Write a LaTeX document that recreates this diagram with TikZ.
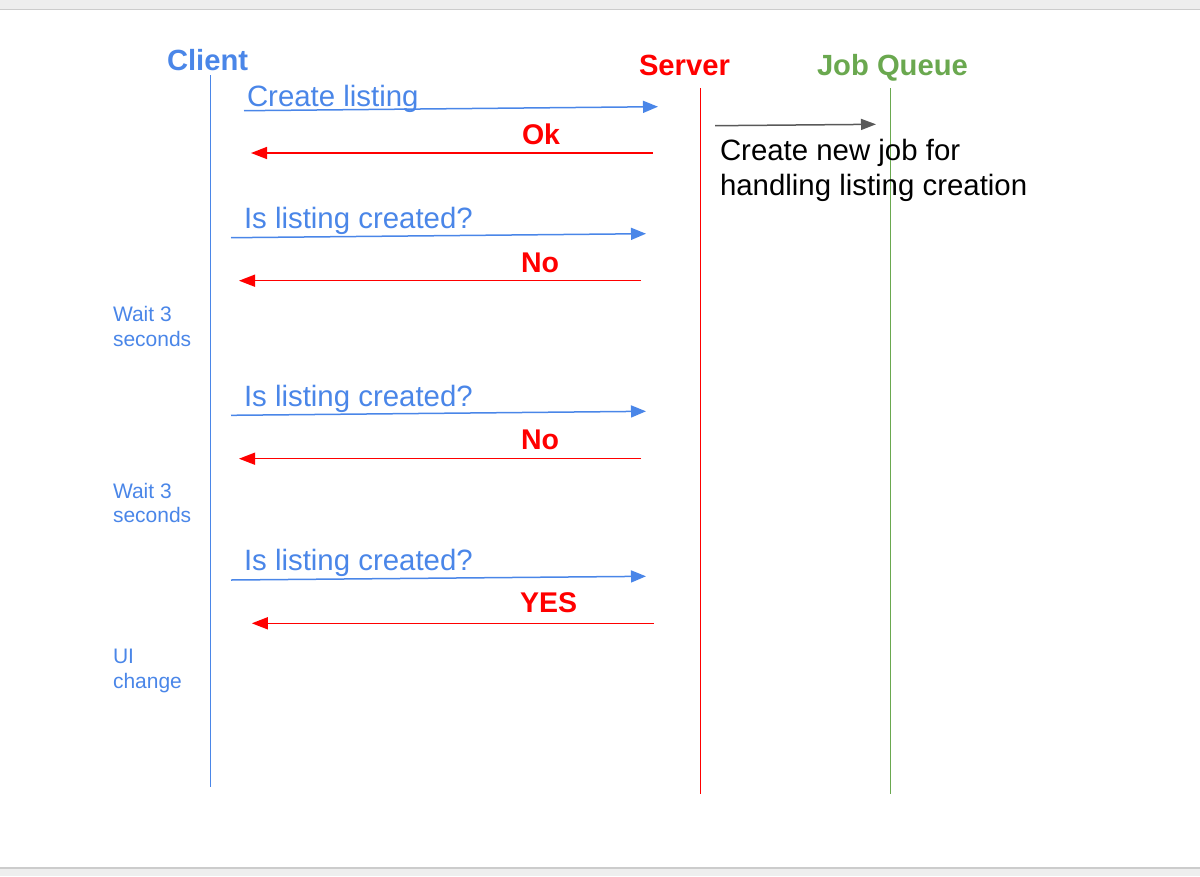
\documentclass[tikz,border=0pt]{standalone}
\usepackage{fontspec}
\setmainfont{Liberation Sans}
\usetikzlibrary{arrows.meta}
\definecolor{cblue}{HTML}{4A86E8}
\definecolor{cred}{HTML}{FF0000}
\definecolor{cgreen}{HTML}{6AA84F}
\definecolor{cdark}{HTML}{595959}
\definecolor{bandgray}{HTML}{EEEEEE}
\definecolor{bandline}{HTML}{CCCCCC}
\tikzset{
  lbl/.style={inner sep=0pt, outer sep=0pt, anchor=base west},
  head/.style={lbl, font=\bfseries\fontsize{29.2}{34}\selectfont},
  msg/.style={lbl, font=\fontsize{29.4}{34}\selectfont},
  reply/.style={lbl, font=\bfseries\fontsize{28.5}{34}\selectfont, text=cred},
  note/.style={lbl, font=\fontsize{21}{25}\selectfont, text=cblue},
  life/.style={line width=1.3pt},
  req/.style={draw=cblue, line width=1.5pt, -{Triangle[length=15pt,width=12pt]}},
  resp/.style={draw=cred, line width=1.5pt, -{Triangle[length=16pt,width=12pt]}},
  jobarrow/.style={draw=cdark, line width=1.5pt, -{Triangle[length=15pt,width=11pt]}},
}
\begin{document}
\begin{tikzpicture}[x=1pt,y=-1pt]
\useasboundingbox (0,0) rectangle (1200,876);
% window bands
\fill[bandgray] (0,0) rectangle (1200,9);
\fill[bandline] (0,8.5) rectangle (1200,10);
\fill[bandline] (0,866.5) rectangle (1200,869);
\fill[bandgray] (0,869) rectangle (1200,876);

% headers
\node[head, text=cblue] (client) at (167,70) {Client};
\node[head, text=cred] (server) at (639,75) {Server};
\node[head, text=cgreen] (queue) at (817,75) {Job Queue};

% lifelines
\coordinate (ct) at (210.3,75);
\coordinate (cb) at (210.3,787);
\coordinate (st) at (700.5,88);
\coordinate (sb) at (700.5,793.5);
\coordinate (qt) at (890.5,88);
\coordinate (qb) at (890.5,793.5);
\draw[life, cblue] (ct) -- (cb);
\draw[life, cred] (st) -- (sb);
\draw[life, cgreen] (qt) -- (qb);

% message 1
\coordinate (m1a) at (244,110.7);
\coordinate (m1b) at (658,106.7);
\draw[req] (m1a) -- (m1b);
\node[msg, text=cblue] (t1) at (247,106) {Create listing};

\coordinate (r1a) at (653,153);
\coordinate (r1b) at (251,153);
\draw[resp] (r1a) -- (r1b);
\node[reply] (ok) at (522,144) {Ok};

% job creation
\coordinate (ja) at (715,125.7);
\coordinate (jb) at (876,124.3);
\draw[jobarrow] (ja) -- (jb);
\node[msg] (job1) at (720,160) {Create new job for};
\node[msg] (job2) at (720,195) {handling listing creation};

% message 2
\coordinate (m2a) at (231,237.7);
\coordinate (m2b) at (646,233.7);
\draw[req] (m2a) -- (m2b);
\node[msg, text=cblue] (t2) at (244,228) {Is listing created?};

\coordinate (r2a) at (641,280.7);
\coordinate (r2b) at (239,280.7);
\draw[resp] (r2a) -- (r2b);
\node[reply] (no1) at (521,272) {No};

\node[note] (w1a) at (113,321.7) {Wait 3};
\node[note] (w1b) at (113,346) {seconds};

% message 3
\coordinate (m3a) at (231,415.3);
\coordinate (m3b) at (646,411.3);
\draw[req] (m3a) -- (m3b);
\node[msg, text=cblue] (t3) at (244,406.7) {Is listing created?};

\coordinate (r3a) at (641,458.7);
\coordinate (r3b) at (239,458.7);
\draw[resp] (r3a) -- (r3b);
\node[reply] (no2) at (521,449) {No};

\node[note] (w2a) at (113,498.5) {Wait 3};
\node[note] (w2b) at (113,522.8) {seconds};

% message 4
\coordinate (m4a) at (231,580);
\coordinate (m4b) at (646,576.3);
\draw[req] (m4a) -- (m4b);
\node[msg, text=cblue] (t4) at (244,570) {Is listing created?};

\coordinate (r4a) at (653.6,623.3);
\coordinate (r4b) at (251.8,623.3);
\draw[resp] (r4a) -- (r4b);
\node[reply] (yes) at (520,612.7) {YES};

\node[note] (ui1) at (113,663.5) {UI};
\node[note] (ui2) at (113,688) {change};
\end{tikzpicture}
\end{document}
